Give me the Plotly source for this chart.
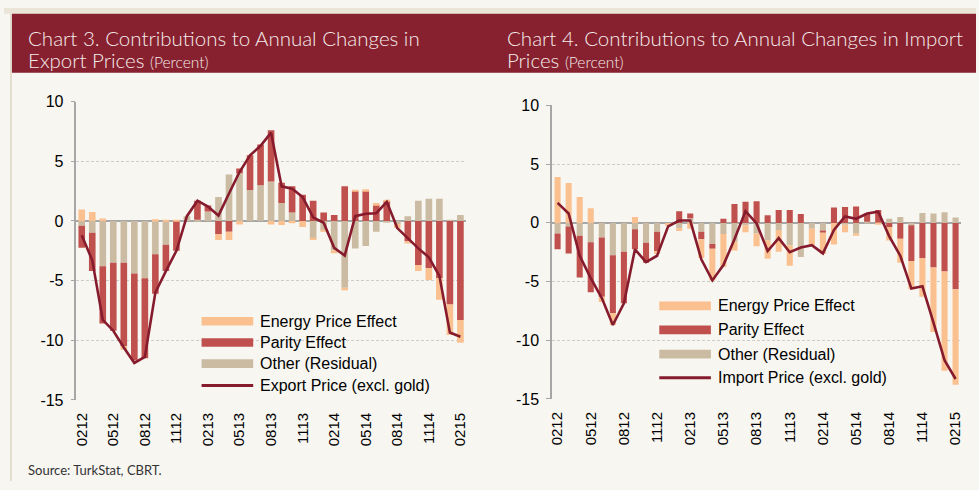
import plotly.graph_objects as go

months = ["0212","0312","0412","0512","0612","0712","0812","0912","1012","1112","1212","0113",
          "0213","0313","0413","0513","0613","0713","0813","0913","1013","1113","1213","0114",
          "0214","0314","0414","0514","0614","0714","0814","0914","1014","1114","1214","0115","0215"]
tick_labels = ["0212","0512","0812","1112","0213","0513","0813","1113","0214","0514","0814","1114","0215"]

# Chart 3 - export prices
exp_other = [-0.4,-1.0,-3.8,-3.5,-3.5,-4.4,-4.8,-2.8,-2.0,0.0,0.4,0.1,0.8,2.0,3.9,4.0,2.6,3.0,3.3,1.5,0.7,0.0,
             -1.45,-0.75,-2.45,-5.6,-2.3,-2.1,-0.9,-0.15,-0.25,0.4,1.7,1.85,1.85,0.1,0.5]
exp_parity = [-1.85,-3.2,-4.8,-5.7,-7.0,-7.3,-6.7,-3.3,-2.2,-2.5,0.0,1.6,0.5,-1.1,-0.9,0.4,2.9,3.4,4.3,1.7,2.2,2.2,
              1.7,0.7,0.5,2.9,2.5,2.5,1.35,1.7,0.0,-1.7,-3.7,-3.95,-4.8,-7.0,-8.3]
exp_energy = [0.95,0.75,0.2,0.0,-0.3,0.0,0.0,0.15,0.1,0.05,0.0,0.0,0.0,-0.5,-0.7,-0.3,0.0,0.0,-0.3,-0.35,-0.2,-0.5,
              -0.15,-0.15,-0.25,-0.2,0.1,0.15,0.15,0.05,-0.35,-0.2,-0.5,-1.0,-1.8,-2.55,-1.9]
exp_line = [-1.2,-3.3,-8.3,-9.2,-10.6,-11.9,-11.4,-6.0,-4.2,-2.5,0.4,1.7,1.2,0.45,2.3,4.1,5.5,6.3,7.4,2.9,2.7,2.0,
            0.3,-0.15,-2.25,-2.9,0.4,0.6,0.65,1.6,-0.6,-1.45,-2.3,-3.05,-4.6,-9.35,-9.7]

# Chart 4 - import prices
imp_other = [-0.9,-0.3,-1.1,-1.65,-1.25,-2.75,-2.45,-0.55,-1.7,-0.75,0.0,-0.45,0.4,-0.75,-1.8,-0.95,-1.6,-0.2,
             -0.9,-1.5,-0.6,-1.9,-2.9,-0.5,-0.65,0.0,-0.15,-0.9,0.1,0.0,0.35,0.5,-0.2,0.85,0.8,0.9,0.45]
imp_parity = [-1.35,-2.3,-3.55,-4.25,-5.05,-4.95,-4.4,-1.7,-1.7,-1.65,0.0,1.0,0.4,-0.65,-0.4,0.35,1.6,1.8,
              1.85,0.65,1.1,1.1,0.75,0.0,-0.2,1.3,1.35,1.4,0.7,1.1,-0.35,-1.35,-3.05,-3.0,-3.8,-4.15,-5.65]
imp_energy = [3.9,3.4,2.2,1.25,-0.45,-1.0,0.0,0.5,0.0,-0.25,-0.25,-0.25,-0.5,-1.6,-2.7,-2.8,-0.75,-0.6,
              -1.1,-1.55,-1.85,-1.75,0.0,-1.4,-1.8,-1.85,-0.65,-0.2,0.0,-0.15,-1.15,-2.05,-2.4,-3.3,-5.5,-8.45,-8.15]
imp_line = [1.7,0.8,-2.8,-4.7,-6.4,-8.7,-6.85,-2.25,-3.35,-2.8,-0.3,0.2,0.2,-3.1,-4.9,-3.6,-1.4,1.0,
            -0.05,-2.4,-1.3,-2.5,-2.1,-1.9,-2.6,-0.6,0.55,0.35,0.8,0.95,-1.15,-2.8,-5.6,-5.4,-8.5,-11.7,-13.3]

legend_names = ["Energy Price Effect", "Parity Effect", "Other (Residual)"]
line_names = ["Export Price (excl. gold)", "Import Price (excl. gold)"]

C_ENERGY = "#FAC08F"
C_PARITY = "#C0504D"
C_OTHER = "#CBBBA2"
C_LINE = "#861B2D"
BG = "#F7F6F1"
BAND = "#88212F"
GRID = "#CDCDCD"
AXC = "#A6A6A6"
W, H = 979, 490

def px(x):
    return x / W

def py(y):
    return 1 - y / H

fig = go.Figure()

panels = [
    dict(x="x", y="y", other=exp_other, parity=exp_parity, energy=exp_energy, line=exp_line, width=0.63, lname=line_names[0]),
    dict(x="x2", y="y2", other=imp_other, parity=imp_parity, energy=imp_energy, line=imp_line, width=0.55, lname=line_names[1]),
]
for p in panels:
    fig.add_trace(go.Bar(x=months, y=p["other"], name=legend_names[2], marker=dict(color=C_OTHER, line=dict(width=0)),
                         width=p["width"], xaxis=p["x"], yaxis=p["y"], showlegend=False))
    fig.add_trace(go.Bar(x=months, y=p["parity"], name=legend_names[1], marker=dict(color=C_PARITY, line=dict(width=0)),
                         width=p["width"], xaxis=p["x"], yaxis=p["y"], showlegend=False))
    fig.add_trace(go.Bar(x=months, y=p["energy"], name=legend_names[0], marker=dict(color=C_ENERGY, line=dict(width=0)),
                         width=p["width"], xaxis=p["x"], yaxis=p["y"], showlegend=False))
    fig.add_trace(go.Scatter(x=months, y=p["line"], name=p["lname"], mode="lines",
                             line=dict(color=C_LINE, width=2.6), xaxis=p["x"], yaxis=p["y"], showlegend=False))

TICKFONT = dict(family="Liberation Sans, Arial, sans-serif", size=15, color="#000000")
YFONT = dict(family="Liberation Sans, Arial, sans-serif", size=16, color="#000000")
boundaries = [i + 2.5 for i in range(0, 36, 3)]

left_x = [px(73), px(465)]
right_x = [px(552), px(964)]
left_y = [py(406), py(97)]
right_y = [py(405), py(101)]

def xaxis_main(domain, anchor):
    return dict(domain=domain, anchor=anchor, type="category", range=[-0.5, 36.5],
                tickmode="array", tickvals=tick_labels, ticktext=tick_labels, tickangle=-90,
                showgrid=False, showline=False, zeroline=False, ticks="", tickfont=TICKFONT,
                ticklabelstandoff=9)

def yaxis_main(domain, anchor):
    return dict(domain=domain, anchor=anchor, range=[-15, 10], tickmode="array",
                tickvals=[-15, -10, -5, 0, 5, 10], ticktext=["-15", "-10", "-5", "0", "5", "10"],
                showgrid=True, gridcolor=GRID, gridwidth=1, griddash="3px,2px",
                zeroline=True, zerolinecolor=AXC, zerolinewidth=2,
                showline=True, linecolor=AXC, linewidth=1.5, ticks="outside", ticklen=4,
                tickcolor=AXC, tickwidth=1, tickfont=YFONT, ticklabelstandoff=4)

def zero_pos(dom):
    return dom[0] + (0 - (-15)) / 25 * (dom[1] - dom[0])

def tick_axis(over, dom_x, dom_y):
    return dict(overlaying=over, anchor="free", position=zero_pos(dom_y), domain=dom_x,
                range=[-0.5, 36.5], tickmode="array", tickvals=boundaries, ticks="outside",
                ticklen=4, tickcolor=AXC, tickwidth=1, showticklabels=False, showgrid=False,
                showline=False, zeroline=False)

fig.update_layout(
    width=W, height=H, margin=dict(l=0, r=0, t=0, b=0),
    paper_bgcolor=BG, plot_bgcolor="rgba(0,0,0,0)",
    barmode="relative", showlegend=False,
    xaxis=xaxis_main(left_x, "y"),
    yaxis=yaxis_main(left_y, "x"),
    xaxis2=xaxis_main(right_x, "y2"),
    yaxis2=yaxis_main(right_y, "x2"),
    xaxis3=tick_axis("x", left_x, left_y),
    xaxis4=tick_axis("x2", right_x, right_y),
)

shapes = []
# top strip, left border, title band
shapes.append(dict(type="rect", xref="paper", yref="paper", x0=0, x1=1, y0=py(6), y1=1,
                   fillcolor="#EAE5D7", line=dict(width=0), layer="below"))
shapes.append(dict(type="rect", xref="paper", yref="paper", x0=px(6), x1=px(8), y0=0, y1=py(6),
                   fillcolor="#E4DECF", line=dict(width=0), layer="below"))
shapes.append(dict(type="rect", xref="paper", yref="paper", x0=px(8), x1=1, y0=py(67), y1=py(6),
                   fillcolor=BAND, line=dict(width=0), layer="below"))

annotations = []
TFONT = dict(family="Lato, Open Sans, sans-serif", size=20.5, color="#F4ECEC", weight=300)
titles = [
    (22, ["Chart 3. Contributions to Annual Changes in", "Export Prices"]),
    (505, ["Chart 4. Contributions to Annual Changes in Import", "Prices"]),
]
for x0, lines in titles:
    annotations.append(dict(xref="paper", yref="paper", x=px(x0), y=py(31), xanchor="left", yanchor="middle",
                            text=lines[0], showarrow=False, font=TFONT))
    annotations.append(dict(xref="paper", yref="paper", x=px(x0), y=py(54), xanchor="left", yanchor="middle",
                            text=lines[1] + " <span style='font-size:15.5px'>(Percent)</span>", showarrow=False, font=TFONT))

annotations.append(dict(xref="paper", yref="paper", x=px(22), y=py(479), xanchor="left", yanchor="middle",
                        text="Source: TurkStat, CBRT.", showarrow=False,
                        font=dict(family="Lato, Open Sans, sans-serif", size=13, color="#333333")))

# manual legends
LFONT = dict(family="Liberation Sans, Arial, sans-serif", size=16, color="#000000")
legends = [
    dict(box=(195, 432, 312, 400), sx=(199, 251), rows=[324.5, 346.5, 368.5, 391], tx=256, lname=line_names[0]),
    dict(box=(656, 890, 297, 393), sx=(660, 712), rows=[308.5, 333.5, 358.5, 383], tx=717, lname=line_names[1]),
]
for lg in legends:
    bx0, bx1, by0, by1 = lg["box"]
    shapes.append(dict(type="rect", xref="paper", yref="paper", x0=px(bx0), x1=px(bx1), y0=py(by1), y1=py(by0),
                       fillcolor=BG, line=dict(width=0), layer="between"))
    cols = [C_ENERGY, C_PARITY, C_OTHER]
    for k in range(3):
        yc = lg["rows"][k]
        shapes.append(dict(type="rect", xref="paper", yref="paper", x0=px(lg["sx"][0]), x1=px(lg["sx"][1]),
                           y0=py(yc + 4.5), y1=py(yc - 4.5), fillcolor=cols[k], line=dict(width=0), layer="above"))
        annotations.append(dict(xref="paper", yref="paper", x=px(lg["tx"]), y=py(yc), xanchor="left", yanchor="middle",
                                text=legend_names[k], showarrow=False, font=LFONT))
    yc = lg["rows"][3]
    shapes.append(dict(type="line", xref="paper", yref="paper", x0=px(lg["sx"][0]), x1=px(lg["sx"][1]),
                       y0=py(yc), y1=py(yc), line=dict(color=C_LINE, width=3), layer="above"))
    annotations.append(dict(xref="paper", yref="paper", x=px(lg["tx"]), y=py(yc), xanchor="left", yanchor="middle",
                            text=lg["lname"], showarrow=False, font=LFONT))

fig.update_layout(shapes=shapes, annotations=annotations)
fig.write_html("out.html", config={"displayModeBar": False},
               post_script="document.body.style.margin='0px'; document.body.style.overflow='hidden';")
